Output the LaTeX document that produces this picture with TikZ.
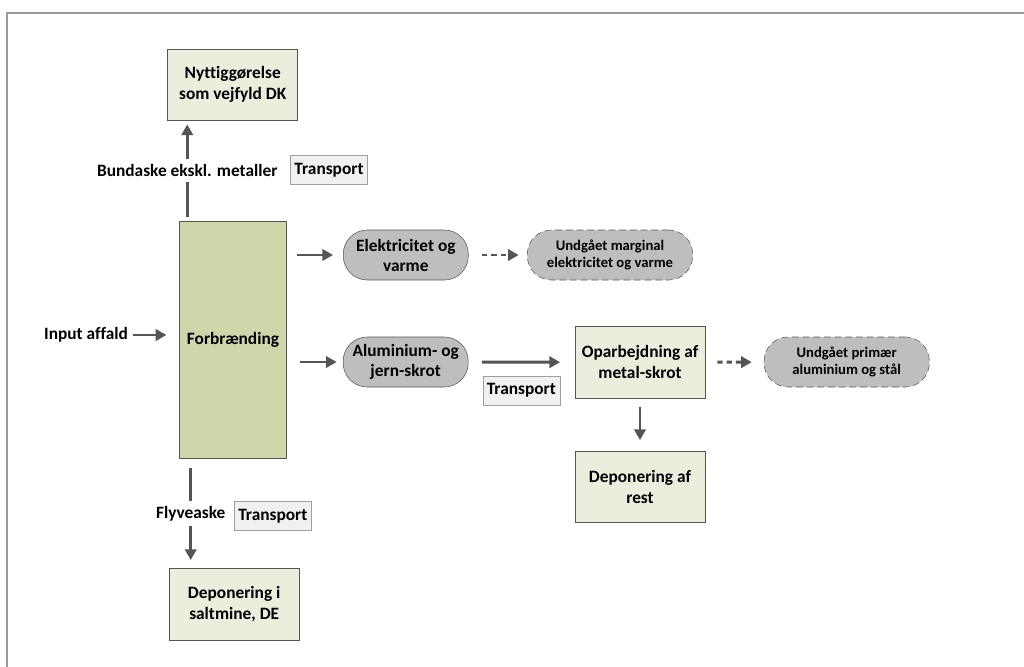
\documentclass[tikz,border=0pt]{standalone}
\usepackage{fontspec}
\setmainfont[Ligatures=NoCommon]{Carlito}
\usepackage{tikz}
\usetikzlibrary{arrows.meta, positioning}
\usepackage{xcolor}
\definecolor{burnfill}{RGB}{206,214,170}
\definecolor{boxfill}{RGB}{234,239,221}
\definecolor{linegray}{RGB}{85,85,85}
\definecolor{pillfill}{RGB}{190,190,190}

\begin{document}
\begin{tikzpicture}[
    x=0.75pt, y=-0.75pt,
    align=center,
    box/.style={draw=linegray, rectangle, fill=boxfill, minimum width=97.5pt, minimum height=53.5pt, font=\fontsize{13}{15.75}\selectfont\bfseries},
    burn/.style={box, fill=burnfill, minimum width=80.5pt, minimum height=177.5pt},
    pill/.style={draw=linegray, rectangle, rounded corners=18pt, fill=pillfill, minimum width=93.75pt, minimum height=37.5pt, font=\fontsize{13}{15}\selectfont\bfseries},
    avoided/.style={pill, dash pattern=on 5pt off 3pt, minimum width=124pt, font=\fontsize{11}{12.5}\selectfont\bfseries},
    transp/.style={draw=gray!75, rectangle, fill=gray!12, inner xsep=3pt, minimum height=21.5pt, font=\fontsize{13}{15}\selectfont\bfseries},
    plain/.style={font=\fontsize{13}{15}\selectfont\bfseries},
    lbl/.style={plain, fill=white, inner xsep=2pt, inner ysep=4pt},
    arrow/.style={-{Triangle[length=8pt, width=8.5pt]}, line width=2.2pt, draw=linegray, shorten <=7.5pt, shorten >=7.5pt},
    dasharrow/.style={arrow, dash pattern=on 4pt off 3pt},
    frame/.style={draw=gray!80, line width=0.8pt}
]
    \useasboundingbox (0,0) rectangle (1024,667);

    % Ramme
    \draw[frame] (7,667) -- (7,13) -- (1024,13);

    % Komponenter
    \node[box] (nytt) at (232.7,84.5) {Nyttiggørelse\\som vejfyld DK};
    \node[burn] (forb) at (233,340) {Forbrænding};
    \node[plain] (input) at (86,335) {Input affald};
    \node[pill] (elek) at (405.8,255) {Elektricitet og\\varme};
    \node[avoided] (marg) at (610,255) {Undgået marginal\\elektricitet og varme};
    \node[pill] (alu) at (405.7,362) {Aluminium- og\\jern-skrot};
    \node[box] (opar) at (640,362.3) {Oparbejdning af\\metal-skrot};
    \node[avoided] (prim) at (846.7,362) {Undgået primær\\aluminium og stål};
    \node[box] (rest) at (640,486.7) {Deponering af\\rest};
    \node[box] (salt) at (234.2,604.2) {Deponering i\\saltmine, DE};
    \node[transp] (trans1) at (329,170) {Transport};
    \node[transp] (trans2) at (272.8,515.8) {Transport};
    \node[transp] (trans3) at (521.3,390.7) {Transport};

    % Forbindelser
    \draw[arrow, shorten <=3.5pt, shorten >=3pt] ([xshift=-34.3pt]forb.north) -- node[lbl] {Bundaske ekskl. metaller} ([xshift=-34.3pt]forb.north |- nytt.south);
    \draw[arrow, shorten <=7.3pt, shorten >=6.2pt] ([xshift=-31.7pt]forb.south) -- node[lbl] {Flyveaske} ([xshift=-31.7pt]forb.south |- salt.north);
    \draw[arrow, shorten <=0pt, shorten >=9.5pt] (input.east) -- (forb.west |- input.east);
    \draw[arrow] (forb.east |- elek.west) -- (elek.west);
    \draw[dasharrow, shorten <=10pt, shorten >=6.3pt] (elek) -- (marg);
    \draw[arrow, shorten <=10pt, shorten >=4.7pt] (forb.east |- alu.west) -- (alu.west);
    \draw[arrow, shorten <=10pt, shorten >=11pt] (alu) -- (opar);
    \draw[dasharrow, shorten <=9pt, shorten >=9pt] (opar) -- (prim);
    \draw[arrow, shorten <=6.5pt, shorten >=8pt] (opar) -- (rest);
\end{tikzpicture}
\end{document}
